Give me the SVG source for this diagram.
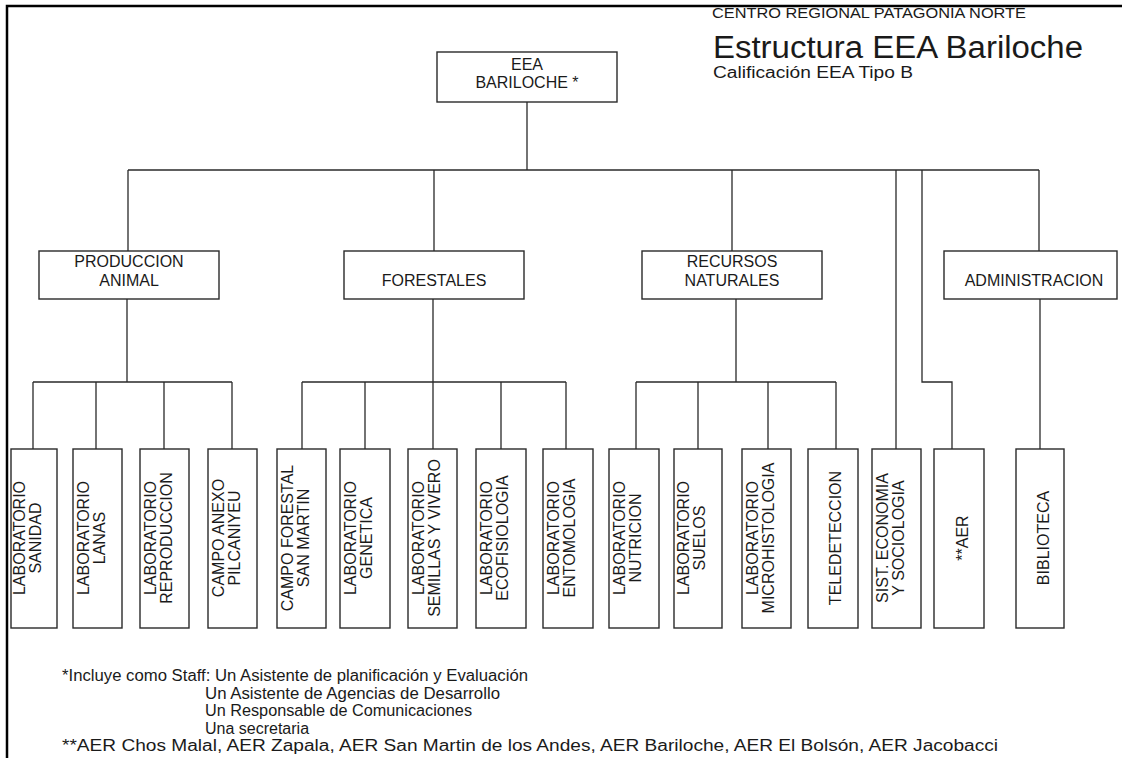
<svg xmlns="http://www.w3.org/2000/svg" width="1122" height="758" viewBox="0 0 1122 758">
<style>
.bg{fill:#ffffff}
.frame{fill:none;stroke:#000;stroke-width:2.5}
.box{fill:#fff;stroke:#2a2a2a;stroke-width:1.4}
.ln{fill:none;stroke:#2a2a2a;stroke-width:1.3}
text{font-family:"Liberation Sans",Arial,sans-serif;fill:#1a1a1a}
.t16{font-size:16px}
.c{text-anchor:middle}
</style>
<rect class="bg" x="0" y="0" width="1122" height="758"/>
<path class="frame" d="M7,758 V6 H1122"/>

<g id="title">
<text x="712" y="18" style="font-size:15px" textLength="314" lengthAdjust="spacingAndGlyphs">CENTRO REGIONAL PATAGONIA NORTE</text>
<text x="713" y="58" style="font-size:31px" textLength="370" lengthAdjust="spacingAndGlyphs">Estructura EEA Bariloche</text>
<text x="713" y="78" style="font-size:16px" textLength="200" lengthAdjust="spacingAndGlyphs">Calificación EEA Tipo B</text>
</g>

<g id="connectors">
<path class="ln" d="M527,102 V170 M128,170 H1039 M128,170 V251 M434,170 V251 M732,170 V251 M1039,170 V251"/>
<path class="ln" d="M896,170 V449 M922,170 V382 H952 V449"/>
<path class="ln" d="M127,299 V382 M33,382 H232 M33,382 V449 M96,382 V449 M164,382 V449 M232,382 V449"/>
<path class="ln" d="M433,299 V382 M302,382 H566 M302,382 V449 M365,382 V449 M433,382 V449 M501,382 V449 M566,382 V449"/>
<path class="ln" d="M736,299 V382 M636,382 H836 M636,382 V449 M698,382 V449 M768,382 V449 M836,382 V449"/>
<path class="ln" d="M1040,299 V449"/>
</g>

<g id="eea">
<rect class="box" x="437" y="52" width="180" height="50"/>
<text class="t16 c" x="527" y="70">EEA</text>
<text class="t16 c" x="527" y="88">BARILOCHE *</text>
</g>

<g id="produccion">
<rect class="box" x="39" y="251" width="180" height="48"/>
<text class="t16 c" x="129" y="267">PRODUCCION</text>
<text class="t16 c" x="129" y="286">ANIMAL</text>
</g>
<g id="forestales">
<rect class="box" x="344" y="251" width="180" height="48"/>
<text class="t16 c" x="434" y="286">FORESTALES</text>
</g>
<g id="recursos">
<rect class="box" x="642" y="251" width="180" height="48"/>
<text class="t16 c" x="732" y="267">RECURSOS</text>
<text class="t16 c" x="732" y="286">NATURALES</text>
</g>
<g id="administracion">
<rect class="box" x="944" y="251" width="173" height="48"/>
<text class="t16 c" x="1034" y="286">ADMINISTRACION</text>
</g>

<g id="lab-sanidad">
<rect class="box" x="11" y="449" width="46" height="179"/>
<g transform="translate(34,538) rotate(-90)"><text class="t16 c" x="0" y="-9">LABORATORIO</text><text class="t16 c" x="0" y="7">SANIDAD</text></g>
</g>
<g id="lab-lanas">
<rect class="box" x="73" y="449" width="49" height="179"/>
<g transform="translate(97.5,538) rotate(-90)"><text class="t16 c" x="0" y="-9">LABORATORIO</text><text class="t16 c" x="0" y="7">LANAS</text></g>
</g>
<g id="lab-reproduccion">
<rect class="box" x="140" y="449" width="49" height="179"/>
<g transform="translate(164.5,538) rotate(-90)"><text class="t16 c" x="0" y="-9">LABORATORIO</text><text class="t16 c" x="0" y="7">REPRODUCCION</text></g>
</g>
<g id="campo-anexo">
<rect class="box" x="208" y="449" width="49" height="179"/>
<g transform="translate(232.5,538) rotate(-90)"><text class="t16 c" x="0" y="-9">CAMPO ANEXO</text><text class="t16 c" x="0" y="7">PILCANIYEU</text></g>
</g>
<g id="campo-forestal">
<rect class="box" x="277" y="449" width="49" height="179"/>
<g transform="translate(301.5,538) rotate(-90)"><text class="t16 c" x="0" y="-9">CAMPO FORESTAL</text><text class="t16 c" x="0" y="7">SAN MARTIN</text></g>
</g>
<g id="lab-genetica">
<rect class="box" x="340" y="449" width="50" height="179"/>
<g transform="translate(365,538) rotate(-90)"><text class="t16 c" x="0" y="-9">LABORATORIO</text><text class="t16 c" x="0" y="7">GENETICA</text></g>
</g>
<g id="lab-semillas">
<rect class="box" x="408" y="449" width="49" height="179"/>
<g transform="translate(432.5,538) rotate(-90)"><text class="t16 c" x="0" y="-9">LABORATORIO</text><text class="t16 c" x="0" y="7">SEMILLAS Y VIVERO</text></g>
</g>
<g id="lab-ecofisiologia">
<rect class="box" x="476" y="449" width="50" height="179"/>
<g transform="translate(501,538) rotate(-90)"><text class="t16 c" x="0" y="-9">LABORATORIO</text><text class="t16 c" x="0" y="7">ECOFISIOLOGIA</text></g>
</g>
<g id="lab-entomologia">
<rect class="box" x="543" y="449" width="50" height="179"/>
<g transform="translate(568,538) rotate(-90)"><text class="t16 c" x="0" y="-9">LABORATORIO</text><text class="t16 c" x="0" y="7">ENTOMOLOGIA</text></g>
</g>
<g id="lab-nutricion">
<rect class="box" x="609" y="449" width="50" height="179"/>
<g transform="translate(634,538) rotate(-90)"><text class="t16 c" x="0" y="-9">LABORATORIO</text><text class="t16 c" x="0" y="7">NUTRICION</text></g>
</g>
<g id="lab-suelos">
<rect class="box" x="674" y="449" width="48" height="179"/>
<g transform="translate(698,538) rotate(-90)"><text class="t16 c" x="0" y="-9">LABORATORIO</text><text class="t16 c" x="0" y="7">SUELOS</text></g>
</g>
<g id="lab-microhistologia">
<rect class="box" x="742" y="449" width="49" height="179"/>
<g transform="translate(766.5,538) rotate(-90)"><text class="t16 c" x="0" y="-9">LABORATORIO</text><text class="t16 c" x="0" y="7">MICROHISTOLOGIA</text></g>
</g>
<g id="teledeteccion">
<rect class="box" x="808" y="449" width="50" height="179"/>
<g transform="translate(833,538) rotate(-90)"><text class="t16 c" x="0" y="8">TELEDETECCION</text></g>
</g>
<g id="sist-economia">
<rect class="box" x="872" y="449" width="49" height="179"/>
<g transform="translate(896.5,538) rotate(-90)"><text class="t16 c" x="0" y="-9">SIST. ECONOMIA</text><text class="t16 c" x="0" y="7">Y SOCIOLOGIA</text></g>
</g>
<g id="aer">
<rect class="box" x="934" y="449" width="50" height="179"/>
<g transform="translate(959,538) rotate(-90)"><text class="t16 c" x="0" y="9">**AER</text></g>
</g>
<g id="biblioteca">
<rect class="box" x="1016" y="449" width="48" height="179"/>
<g transform="translate(1040,538) rotate(-90)"><text class="t16 c" x="0" y="9">BIBLIOTECA</text></g>
</g>

<g id="notes">
<text class="t16" x="62" y="681" textLength="466" lengthAdjust="spacingAndGlyphs">*Incluye como Staff: Un Asistente de planificación y Evaluación</text>
<text class="t16" x="205" y="699" textLength="295" lengthAdjust="spacingAndGlyphs">Un Asistente de Agencias de Desarrollo</text>
<text class="t16" x="205" y="716" textLength="267" lengthAdjust="spacingAndGlyphs">Un Responsable de Comunicaciones</text>
<text class="t16" x="205" y="734">Una secretaria</text>
<text class="t16" x="62" y="751" textLength="936" lengthAdjust="spacingAndGlyphs">**AER Chos Malal, AER Zapala, AER San Martin de los Andes, AER Bariloche, AER El Bolsón, AER Jacobacci</text>
</g>
</svg>
